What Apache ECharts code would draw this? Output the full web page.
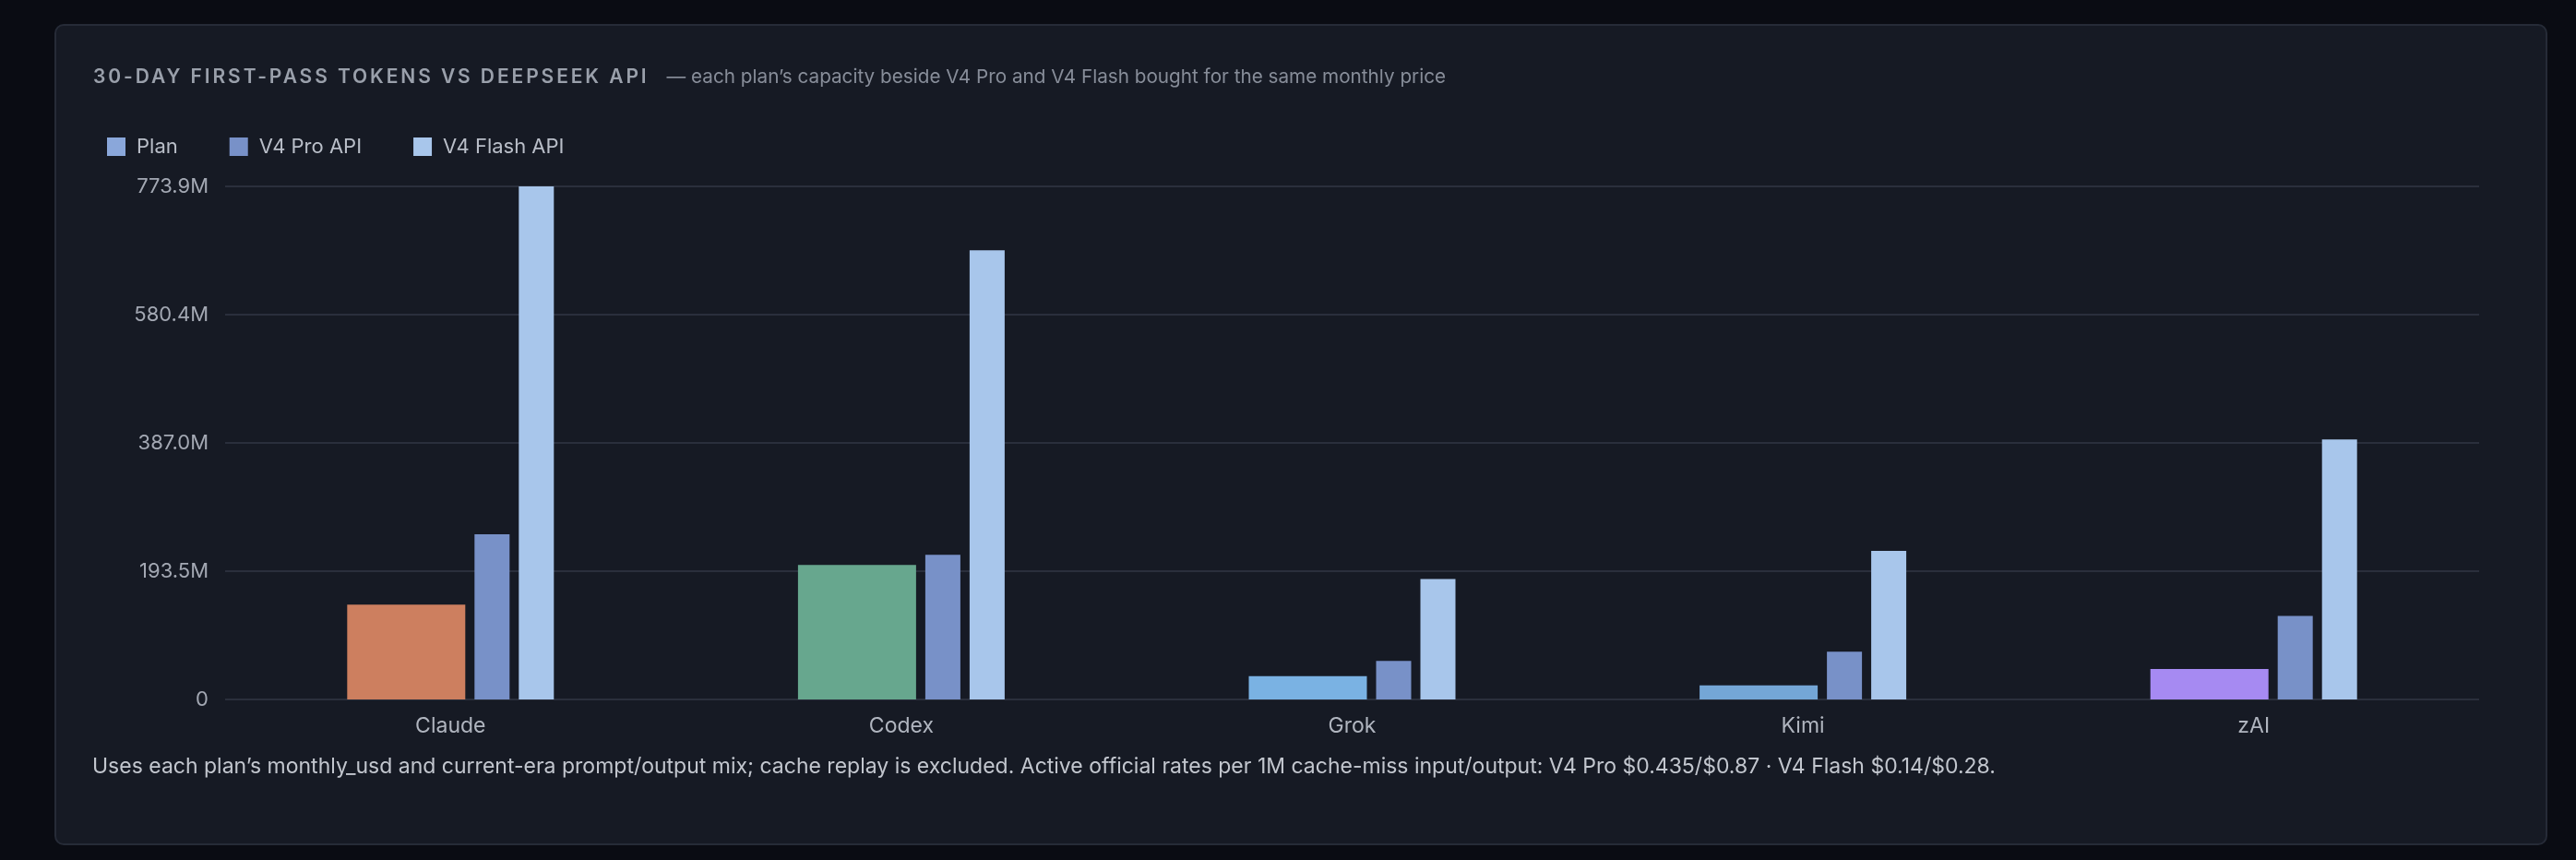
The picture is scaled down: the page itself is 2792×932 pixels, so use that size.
<!DOCTYPE html>
<html>
<head>
    <meta charset="utf-8">
    <title>30-day first-pass tokens vs DeepSeek API</title>
    <script src="https://cdn.jsdelivr.net/npm/echarts@6.0.0/dist/echarts.min.js"></script>
    <style>
        html, body { margin: 0; padding: 0; background: #0a0c13; }
        body { width: 2792px; height: 932px; position: relative; overflow: hidden; font-family: Inter, "Noto Sans", sans-serif; }
        .card { position: absolute; left: 59px; top: 26px; width: 2698px; height: 886px; background: #161a24; border: 2px solid #262b37; border-radius: 10px; }
        #chart { position: absolute; left: 0; top: 0; width: 2792px; height: 932px; }
        .head { position: absolute; left: 101px; top: 70px; white-space: nowrap; }
        .head .t { font-size: 21px; font-weight: 600; letter-spacing: 2.9px; color: #9aa0ab; }
        .head .s { font-size: 20.7px; color: #878d99; margin-left: 19px; }
        .note { position: absolute; left: 100px; top: 816px; font-size: 23px; color: #c2c6ce; white-space: nowrap; }
    </style>
</head>
<body>
<div class="card"></div>
<div id="chart"></div>
<div class="head"><span class="t">30-DAY FIRST-PASS TOKENS VS DEEPSEEK API</span><span class="s">— each plan’s capacity beside V4 Pro and V4 Flash bought for the same monthly price</span></div>
<div class="note">Uses each plan’s monthly_usd and current-era prompt/output mix; cache replay is excluded. Active official rates per 1M cache-miss input/output: V4 Pro $0.435/$0.87 · V4 Flash $0.14/$0.28.</div>

<script type="text/javascript">
    // 数据（单位：百万 tokens）
    var categories = ['Claude', 'Codex', 'Grok', 'Kimi', 'zAI'];
    var planTokens = [143.0, 202.8, 35.3, 21.4, 45.9];
    var proTokens = [249.1, 218.1, 58.0, 72.0, 125.8];
    var flashTokens = [773.9, 677.4, 181.5, 224.1, 392.1];
    var planColors = ['#cd7f5f', '#67a78e', '#7ab2e3', '#74a6d6', '#a68af2'];
    var axisMax = 773.92;

    var M = 1e6;
    var planWidth = 128, apiWidth = 38, gap = 10;
    var gapRatio = gap / planWidth;
    // 空白系列，用来让 Pro 和 Flash 之间的间距与 Plan 之后一致
    var spacerWidth = (gap - apiWidth * gapRatio) / (1 + gapRatio);

    var myChart = echarts.init(document.getElementById('chart'));
    myChart.setOption({
        backgroundColor: 'transparent',
        animation: false,
        textStyle: { fontFamily: 'Inter, "Noto Sans", sans-serif' },
        legend: {
            data: ['Plan', 'V4 Pro API', 'V4 Flash API'],
            left: 111,
            top: 143,
            icon: 'rect',
            itemWidth: 20,
            itemHeight: 20,
            itemGap: 56,
            textStyle: { color: '#b9bec8', fontSize: 22, padding: [0, 0, 0, 7] }
        },
        grid: {
            left: 244,
            top: 202,
            width: 2443,
            height: 556,
            containLabel: false,
            outerBoundsMode: 'none'
        },
        xAxis: {
            type: 'category',
            data: categories,
            axisLine: { show: false },
            axisTick: { show: false },
            axisLabel: { color: '#b0b5bf', fontSize: 23, margin: 18 }
        },
        yAxis: {
            type: 'value',
            min: 0,
            max: axisMax * M,
            interval: axisMax * M / 4,
            axisLine: { show: false },
            axisTick: { show: false },
            axisLabel: {
                color: '#a3a8b3',
                fontSize: 22,
                margin: 18,
                formatter: function (v) {
                    return v === 0 ? '0' : (v / M).toFixed(1) + 'M';
                }
            },
            splitLine: { lineStyle: { color: '#2a2f3c', width: 2 } }
        },
        series: [{
            name: 'Plan',
            type: 'bar',
            barWidth: planWidth,
            barGap: gapRatio,
            itemStyle: { color: '#8aa7da' },
            data: planTokens.map(function (v, i) {
                return { value: v * M, itemStyle: { color: planColors[i] } };
            })
        }, {
            name: 'V4 Pro API',
            type: 'bar',
            barWidth: apiWidth,
            barGap: gapRatio,
            itemStyle: { color: '#7891c8' },
            data: proTokens.map(function (v) { return v * M; })
        }, {
            name: 'spacer',
            type: 'bar',
            barWidth: spacerWidth,
            barGap: gapRatio,
            silent: true,
            data: categories.map(function () { return '-'; })
        }, {
            name: 'V4 Flash API',
            type: 'bar',
            barWidth: apiWidth,
            barGap: gapRatio,
            itemStyle: { color: '#a8c6eb' },
            data: flashTokens.map(function (v) { return v * M; })
        }]
    });
</script>
</body>
</html>
